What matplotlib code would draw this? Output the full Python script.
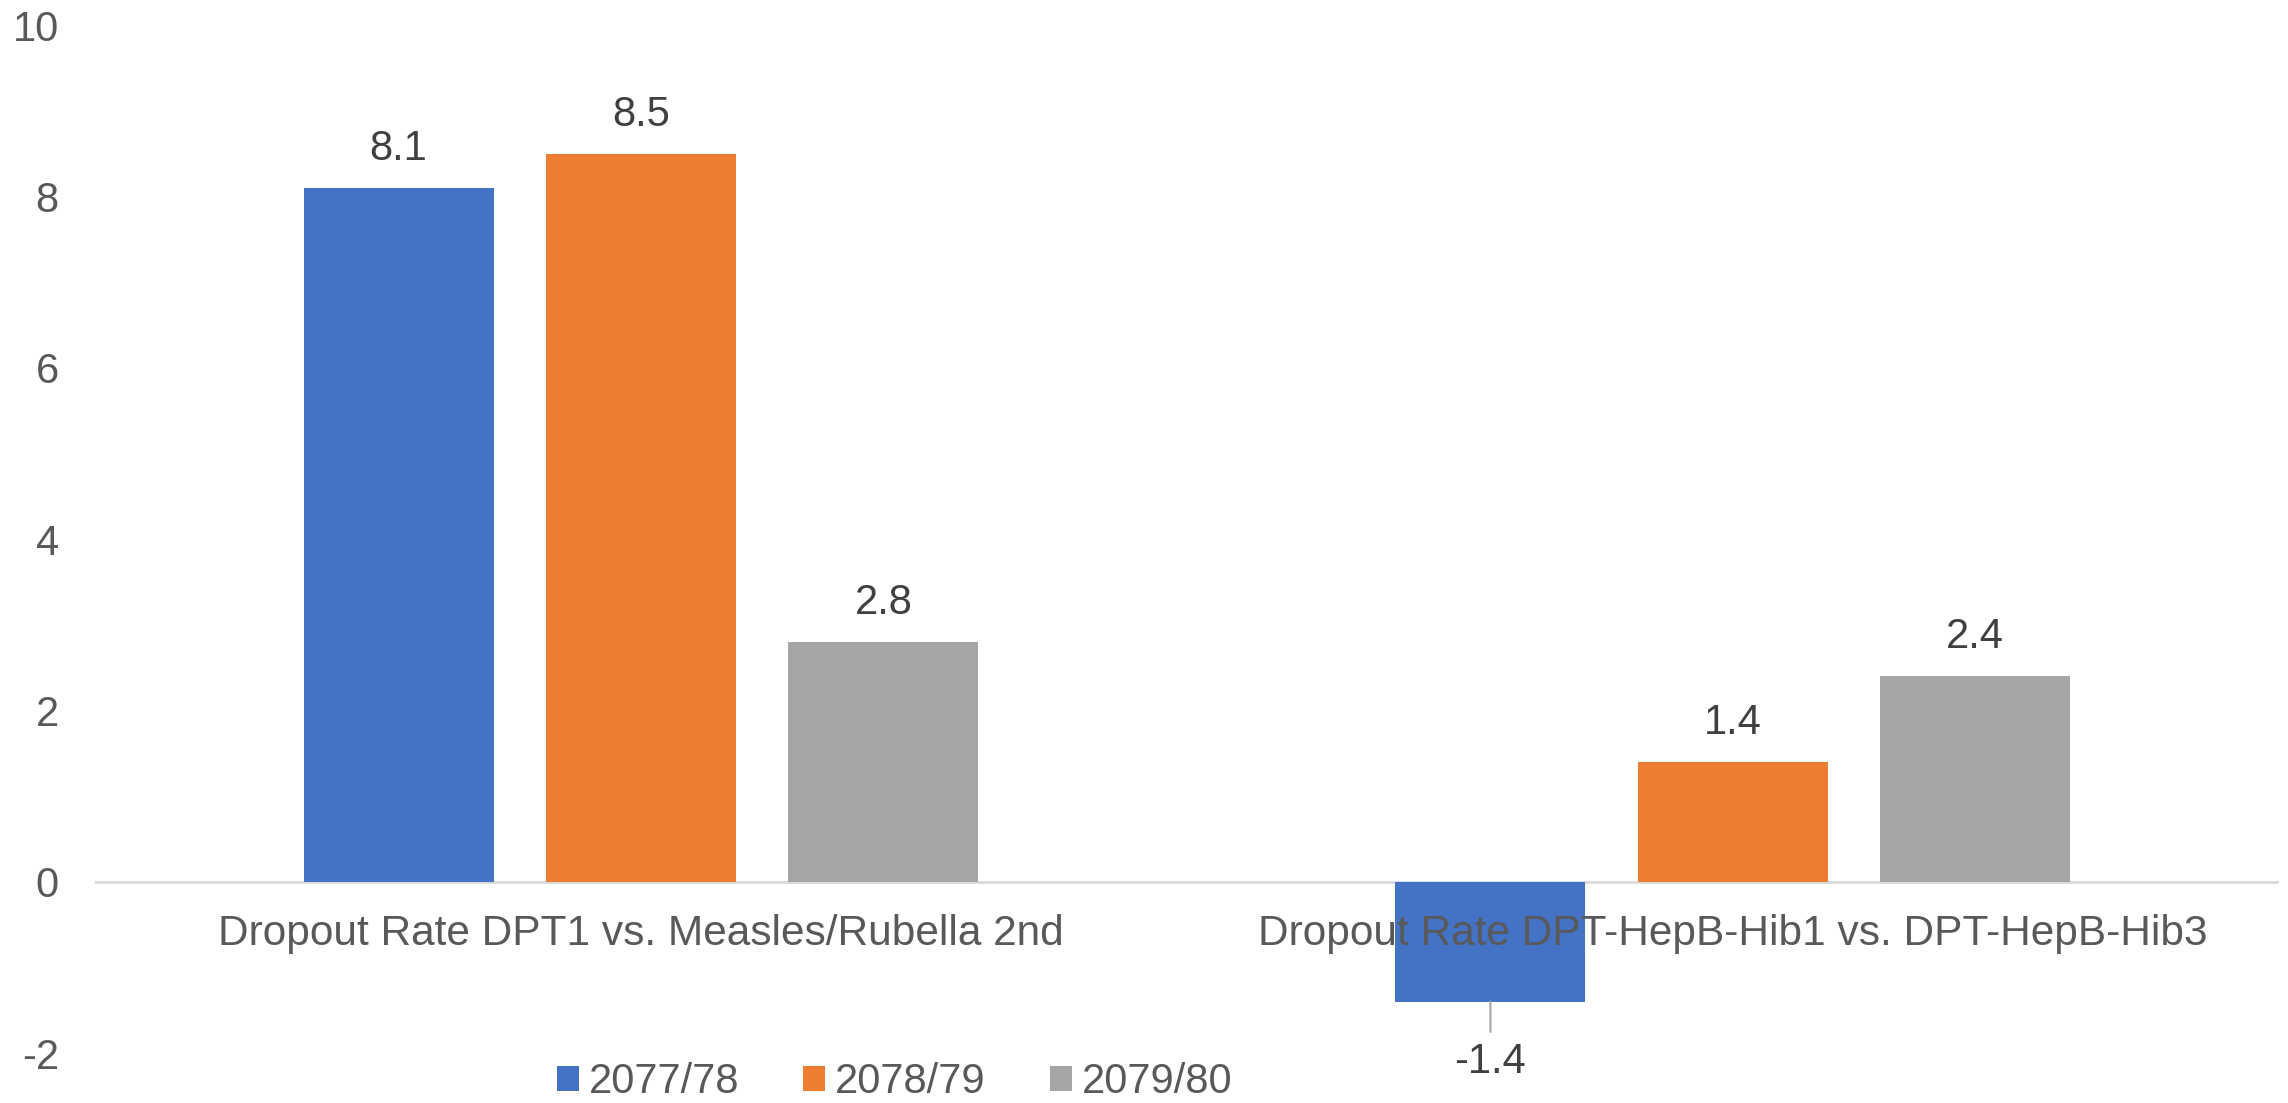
import matplotlib.pyplot as plt
import numpy as np

plt.rcParams['font.family'] = ['Liberation Sans', 'DejaVu Sans']

categories = ['Dropout Rate DPT1 vs. Measles/Rubella 2nd',
              'Dropout Rate DPT-HepB-Hib1 vs. DPT-HepB-Hib3']
years = ['2077/78', '2078/79', '2079/80']
vals_7778 = [8.1, -1.4]
vals_7879 = [8.5, 1.4]
vals_7980 = [2.8, 2.4]
yticks = [-2, 0, 2, 4, 6, 8, 10]

colors = ['#4472C4', '#ED7D31', '#A5A5A5']
series = [vals_7778, vals_7879, vals_7980]

fig = plt.figure(figsize=(22.88, 11.03), dpi=100)
ax = fig.add_axes([0.0415, 0.0453, 0.9545, 0.932])

x = np.arange(len(categories))
offsets = [-0.222, 0.0, 0.222]
width = 0.174

for vals, off, col, lab in zip(series, offsets, colors, years):
    bars = ax.bar(x + off, vals, width, color=col, label=lab, zorder=2)
    for b, v in zip(bars, vals):
        cx = b.get_x() + b.get_width() / 2
        if v >= 0:
            ax.annotate(f'{v:.1f}', xy=(cx, v), xytext=(0, 39),
                        textcoords='offset pixels', ha='center', va='center',
                        fontsize=30, color='#404040')
        else:
            # negative label sits below the bar with a short leader line
            ax.annotate(f'{v:.1f}', xy=(cx, v), xytext=(0, -60),
                        textcoords='offset pixels', ha='center', va='center',
                        fontsize=30, color='#404040',
                        arrowprops=dict(arrowstyle='-', color='#A6A6A6', lw=1.5,
                                        shrinkA=5, shrinkB=0))

ax.axhline(0, color='#D9D9D9', lw=2, zorder=1)

for i, cat in enumerate(categories):
    ax.annotate(cat, xy=(i, 0), xytext=(0, -52), textcoords='offset pixels',
                ha='center', va='center', fontsize=30.5, color='#595959', zorder=5)

ax.set_xlim(-0.5, 1.5)
ax.set_ylim(-2, 10)
ax.set_yticks(yticks)
ax.set_yticklabels([str(t) for t in yticks], fontsize=30, color='#595959')
ax.tick_params(axis='y', length=0, pad=26)
ax.set_xticks([])
for s in ax.spines.values():
    s.set_visible(False)

fig.legend(loc='center', bbox_to_anchor=(0.391, 0.019), ncol=3, frameon=False,
           fontsize=30, handlelength=0.53, handleheight=0.53, handletextpad=0.24,
           columnspacing=1.53, labelcolor='#595959')

fig.savefig('out.png', dpi=100)
